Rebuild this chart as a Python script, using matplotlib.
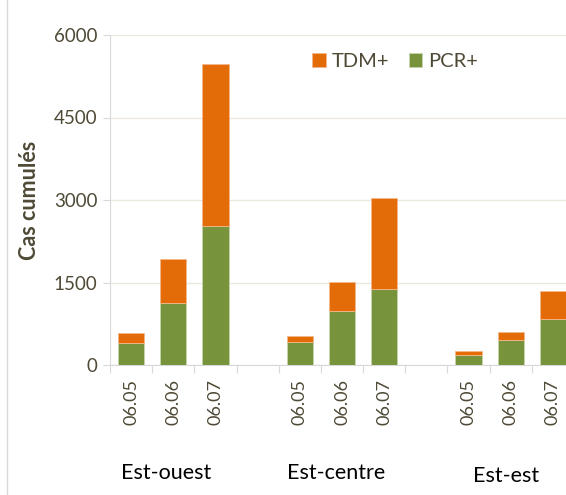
# stacked bars of cumulative cases by region and date

import numpy as np
import matplotlib.pyplot as plt
from matplotlib.transforms import blended_transform_factory

regions = ['Est-ouest', 'Est-centre', 'Est-est']
dates = ['06.05', '06.06', '06.07']
pcr = [395, 1121, 2527, 418, 982, 1382, 188, 455, 842]
tdm = [180, 806, 2952, 109, 527, 1654, 67, 151, 503]

green = '#77933C'
orange = '#E36C09'
txt = '#4F4A36'

plt.rcParams['font.family'] = ['Lato', 'DejaVu Sans']

fig = plt.figure(figsize=(5.66, 4.95), dpi=100)
ax = fig.add_axes([110 / 566, 130 / 495, 464 / 566, 330 / 495])

# category slots: 3 dates per region and an empty slot between regions
xs = []
for g in range(len(regions)):
    for d in range(len(dates)):
        xs.append(g * 4 + d)
xs = np.array(xs)

ax.bar(xs, pcr, width=0.62, color=green, edgecolor='#c8d6ad', linewidth=0.6,
       label='PCR+', zorder=3)
ax.bar(xs, tdm, bottom=pcr, width=0.62, color=orange, edgecolor='#f3b88a',
       linewidth=0.6, label='TDM+', zorder=3)

ax.set_xlim(-0.5, 10.5)
ax.set_ylim(0, 6000)
ax.set_yticks([0, 1500, 3000, 4500, 6000])
ax.grid(axis='y', color='#ebe8dd', linewidth=1, zorder=0)

# tick marks between categories, date labels at centres
ax.set_xticks(np.arange(-0.5, 11, 1))
ax.set_xticklabels([])
ax.set_xticks(xs, minor=True)
ax.set_xticklabels(dates * len(regions), minor=True, rotation=90)
ax.tick_params(axis='x', which='major', length=6, color='#d9d9d9')
ax.tick_params(axis='x', which='minor', length=0, pad=10, labelsize=13,
               labelcolor=txt)
ax.tick_params(axis='y', length=5, color='#d9d9d9', labelsize=13.5,
               labelcolor=txt, pad=4)

for s in ['top', 'right']:
    ax.spines[s].set_visible(False)
for s in ['left', 'bottom']:
    ax.spines[s].set_color('#d9d9d9')

ax.set_ylabel('Cas cumulés', fontsize=15.5, fontweight='bold', color=txt,
              labelpad=10)

trans = blended_transform_factory(ax.transData, ax.transAxes)
group_x = [0.83, 4.86, 8.89]
group_y = [-0.327, -0.327, -0.336]
for gx, gy, name in zip(group_x, group_y, regions):
    ax.text(gx, gy, name, transform=trans, ha='center',
            va='center', fontsize=15.5, color='black')

handles, labels = ax.get_legend_handles_labels()
ax.legend(handles[::-1], labels[::-1], loc='upper center',
          bbox_to_anchor=(0.615, 1.0), ncol=2, frameon=False, fontsize=14.5,
          labelcolor=txt, handlelength=0.65, handleheight=0.65,
          handletextpad=0.3, columnspacing=1.0)

# left border of the chart area
fig.add_artist(plt.Line2D([7 / 566, 7 / 566], [0, 1], color='#d9d9d9',
                          linewidth=1, transform=fig.transFigure))

fig.savefig('out.png', dpi=100)
